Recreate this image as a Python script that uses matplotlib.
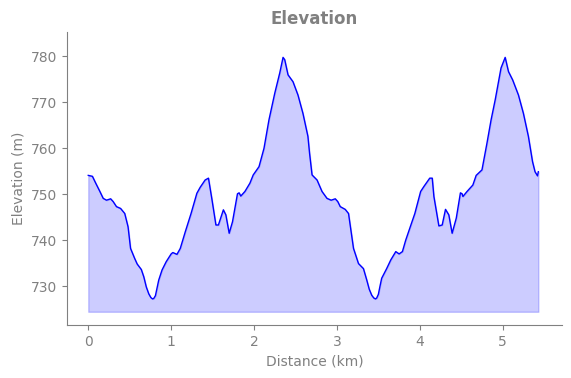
import matplotlib
matplotlib.use("Agg")
import numpy as np
from matplotlib import pyplot as plt

# distance along the track (km) and elevation (m)
distance_km = [
    0.00, 0.05, 0.09, 0.14, 0.18, 0.22, 0.27, 0.30, 0.34, 0.39,
    0.44, 0.48, 0.51, 0.56, 0.59, 0.64, 0.67, 0.70, 0.73, 0.755,
    0.775, 0.79, 0.81, 0.83, 0.85, 0.89, 0.94, 1.00, 1.02, 1.07,
    1.11, 1.17, 1.24, 1.31, 1.35, 1.41, 1.45, 1.49, 1.54, 1.57,
    1.63, 1.66, 1.70, 1.74, 1.80, 1.82, 1.84, 1.89, 1.95, 1.99,
    2.06, 2.12, 2.18, 2.25, 2.31, 2.35, 2.37, 2.41, 2.47, 2.53,
    2.59, 2.65, 2.67, 2.70, 2.76, 2.82, 2.88, 2.93, 2.98, 3.01,
    3.04, 3.10, 3.14, 3.20, 3.26, 3.32, 3.36, 3.39, 3.42, 3.445,
    3.465, 3.48, 3.50, 3.52, 3.54, 3.60, 3.65, 3.71, 3.75, 3.79,
    3.83, 3.90, 3.94, 4.01, 4.05, 4.12, 4.15, 4.17, 4.23, 4.27,
    4.31, 4.35, 4.39, 4.44, 4.49, 4.51, 4.52, 4.57, 4.64, 4.68,
    4.75, 4.81, 4.86, 4.91, 4.98, 5.03, 5.07, 5.12, 5.19, 5.25,
    5.31, 5.36, 5.39, 5.42, 5.43,
]
elevation_m = [
    754.1, 753.9, 752.4, 750.6, 749.1, 748.7, 749.0, 748.4, 747.3, 746.9,
    745.8, 742.9, 738.2, 736.0, 734.8, 733.6, 732.0, 729.8, 728.3, 727.5,
    727.2, 727.3, 727.9, 729.6, 731.3, 733.5, 735.3, 737.0, 737.3, 736.9,
    738.2, 741.8, 745.8, 750.2, 751.5, 753.1, 753.5, 749.1, 743.3, 743.3,
    746.6, 745.5, 741.5, 744.0, 750.1, 750.3, 749.6, 750.6, 752.4, 754.2,
    756.0, 760.0, 766.2, 772.0, 776.4, 779.8, 779.3, 776.0, 774.5, 771.6,
    767.6, 762.6, 758.9, 754.2, 753.1, 750.6, 749.1, 748.7, 749.0, 748.4,
    747.3, 746.7, 745.8, 738.2, 734.9, 733.8, 731.3, 729.3, 728.0, 727.4,
    727.2, 727.4, 728.2, 730.0, 731.7, 733.8, 735.7, 737.5, 737.0, 737.5,
    740.0, 743.7, 745.8, 750.6, 751.7, 753.5, 753.5, 749.5, 743.1, 743.3,
    746.7, 745.5, 741.5, 744.8, 750.3, 750.1, 749.5, 750.6, 752.0, 754.1,
    755.3, 761.1, 766.2, 770.6, 777.5, 779.8, 776.7, 774.9, 771.6, 767.6,
    762.6, 757.1, 754.9, 754.0, 754.9,
]
fill_base_m = 724.4

grey = "#808080"

fig = plt.figure(figsize=(5.71, 3.78), dpi=100)
ax = fig.add_axes([0.117, 0.140, 0.867, 0.775])

x = np.array(distance_km)
y = np.array(elevation_m)
ax.fill_between(x, y, fill_base_m, color="blue", alpha=0.2)
ax.plot(x, y, color="blue", linewidth=1.0)

ax.set_xlim(-0.259, 5.714)
ax.set_ylim(721.5, 785.3)
ax.set_xticks([0, 1, 2, 3, 4, 5])
ax.set_yticks([730, 740, 750, 760, 770, 780])

ax.set_title("Elevation", color=grey, fontsize=12, fontweight="bold")
ax.set_xlabel("Distance (km)", color=grey, fontsize=10)
ax.set_ylabel("Elevation (m)", color=grey, fontsize=10)

for side in ("top", "right"):
    ax.spines[side].set_visible(False)
for side in ("left", "bottom"):
    ax.spines[side].set_color(grey)
ax.tick_params(colors=grey, labelsize=10)

fig.savefig("out.png", dpi=100)
